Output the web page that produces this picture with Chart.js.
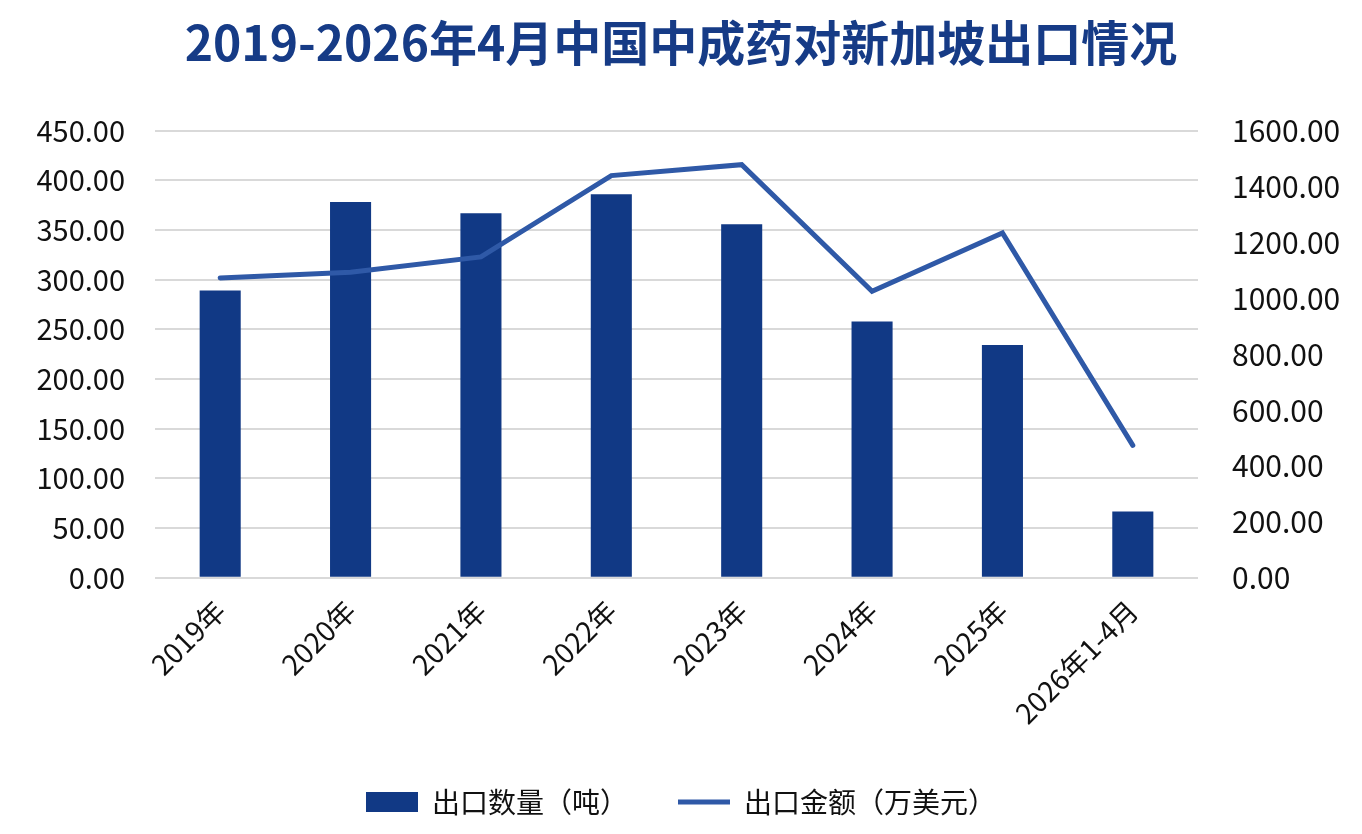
<!DOCTYPE html>
<html>
<head>
<meta charset="utf-8">
<script src="https://cdn.jsdelivr.net/npm/chart.js@4"></script>
<style>
  html, body { margin: 0; padding: 0; background: #fff; }
  #wrap { width: 1362px; height: 834px; }
</style>
</head>
<body>
<div id="wrap"><canvas id="chartExport"></canvas></div>
<script>
const categories = ['2019年', '2020年', '2021年', '2022年', '2023年', '2024年', '2025年', '2026年1-4月'];
const quantity = [289.2, 378.2, 366.8, 385.9, 355.7, 258.0, 234.2, 66.7];     // 出口数量（吨）
const amount = [1073, 1093, 1148, 1439, 1478, 1025, 1234, 474];              // 出口金额（万美元）

const FONT = '"Noto Sans CJK SC", "Noto Sans", sans-serif';

const ctx = document.getElementById('chartExport').getContext('2d');
new Chart(ctx, {
  type: 'bar',
  data: {
    labels: categories,
    datasets: [
      {
        type: 'line',
        label: '出口金额（万美元）',
        data: amount,
        yAxisID: 'y1',
        borderColor: '#2f59a7',
        backgroundColor: '#2f59a7',
        borderWidth: 5,
        pointRadius: 0,
        tension: 0,
        borderCapStyle: 'round',
        pointStyle: 'line',
        order: 0
      },
      {
        label: '出口数量（吨）',
        data: quantity,
        yAxisID: 'y',
        backgroundColor: '#113985',
        barPercentage: 0.63,
        categoryPercentage: 0.5,
        pointStyle: 'rect',
        order: 1
      }
    ]
  },
  options: {
    responsive: true,
    maintainAspectRatio: false,
    animation: false,
    layout: { padding: { left: 0, right: 0, top: 14, bottom: 8 } },
    plugins: {
      title: {
        display: true,
        text: '2019-2026年4月中国中成药对新加坡出口情况',
        color: '#163b86',
        font: { family: FONT, size: 48, weight: 'bold' },
        padding: { top: 0, bottom: 59 }
      },
      legend: {
        position: 'bottom',
        reverse: true,
        labels: {
          usePointStyle: true,
          pointStyleWidth: 52,
          boxHeight: 20,
          color: '#111',
          padding: 50,
          font: { family: FONT, size: 28 }
        }
      },
      tooltip: { enabled: false }
    },
    scales: {
      x: {
        grid: { display: false },
        border: { display: false },
        ticks: {
          color: '#111',
          font: { family: FONT, size: 28 },
          minRotation: 45,
          maxRotation: 45,
          padding: 8
        }
      },
      y: {
        position: 'left',
        min: 0,
        max: 450,
        afterFit: s => { s.width = 155; },
        ticks: {
          stepSize: 50,
          color: '#111',
          font: { family: FONT, size: 29 },
          padding: 30,
          callback: v => v.toFixed(2)
        },
        grid: { color: '#d9d9d9', lineWidth: 2, drawTicks: false },
        border: { display: false }
      },
      y1: {
        position: 'right',
        min: 0,
        max: 1600,
        afterFit: s => { s.width = 164; },
        ticks: {
          stepSize: 200,
          color: '#111',
          font: { family: FONT, size: 30 },
          padding: 34,
          callback: v => v.toFixed(2)
        },
        grid: { display: false, drawTicks: false },
        border: { display: false }
      }
    }
  }
});
</script>
</body>
</html>
